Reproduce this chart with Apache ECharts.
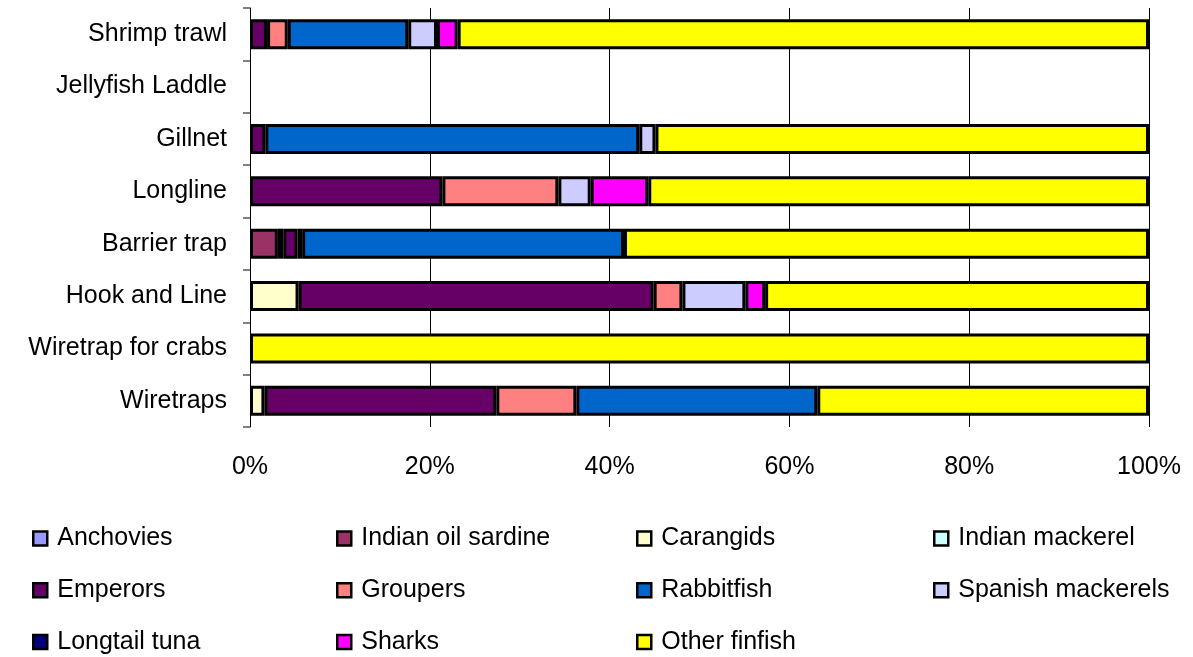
<!DOCTYPE html>
<html>
<head>
<meta charset="utf-8">
<script src="https://cdn.jsdelivr.net/npm/echarts@6/dist/echarts.min.js"></script>
<style>html,body{margin:0;padding:0;background:#fff}#c{width:1193px;height:657px}</style>
</head>
<body>
<div id="c"></div>
<script>
var categories = ['Shrimp trawl','Jellyfish Laddle','Gillnet','Longline','Barrier trap','Hook and Line','Wiretrap for crabs','Wiretraps'];
var xTickLabels = ['0%','20%','40%','60%','80%','100%'];

var anchovies        = [0,   0, 0,    0,    0,    0,    0,   0];
var indianOilSardine = [0,   0, 0,    0,    3.1,  0,    0,   0];
var carangids        = [0,   0, 0,    0,    0.6,  5.4,  0,   1.6];
var indianMackerel   = [0,   0, 0,    0,    0,    0,    0,   0];
var emperors         = [1.9, 0, 1.7,  21.4, 1.6,  39.5, 0,   25.8];
var groupers         = [2.3, 0, 0,    12.9, 0.5,  3.2,  0,   8.9];
var rabbitfish       = [13.4,0, 41.6, 0,    35.8, 0,    0,   26.8];
var spanishMackerels = [3.2, 0, 1.8,  3.6,  0,    7.0,  0,   0];
var longtailTuna     = [0,   0, 0,    0,    0,    0,    0,   0];
var sharks           = [2.3, 0, 0,    6.4,  0,    2.2,  0,   0];
var otherFinfish     = [76.9,0, 54.9, 55.7, 58.4, 42.7, 100, 36.9];

var seriesNames = ['Anchovies','Indian oil sardine','Carangids','Indian mackerel','Emperors','Groupers','Rabbitfish','Spanish mackerels','Longtail tuna','Sharks','Other finfish'];
var seriesData = [anchovies, indianOilSardine, carangids, indianMackerel, emperors, groupers, rabbitfish, spanishMackerels, longtailTuna, sharks, otherFinfish];
var colors = ['#9999FF','#993366','#FFFFCC','#CCFFFF','#660066','#FF8080','#0066CC','#CCCCFF','#000080','#FF00FF','#FFFF00'];

var FONT = 'Liberation Sans, Arial, sans-serif';
var series = seriesNames.map(function(n, i){
  return {
    name: n, type: 'bar', stack: 'all', barWidth: 30,
    itemStyle: {color: colors[i], borderColor: '#000', borderWidth: 3},
    data: seriesData[i].map(function(v){ return v === 0 ? '-' : v; })
  };
});

var legendCols = [
  {left: 32,  names: ['Anchovies','Emperors','Longtail tuna']},
  {left: 336, names: ['Indian oil sardine','Groupers','Sharks']},
  {left: 636, names: ['Carangids','Rabbitfish','Other finfish']},
  {left: 933, names: ['Indian mackerel','Spanish mackerels']}
];
var legends = legendCols.map(function(c){
  return {
    orient: 'vertical', left: c.left, top: 526, padding: 0,
    itemWidth: 14, itemHeight: 14, itemGap: 26.7, icon: 'rect',
    data: c.names,
    itemStyle: {borderColor: '#000', borderWidth: 2.5},
    textStyle: {fontFamily: FONT, fontSize: 25, color: '#000', padding: [0,0,0,5]},
    selectedMode: false
  };
});

var chart = echarts.init(document.getElementById('c'), null, {renderer: 'canvas'});
chart.setOption({
  animation: false,
  backgroundColor: '#fff',
  grid: {left: 250, right: 44, top: 8, bottom: 230, containLabel: false},
  legend: legends,
  xAxis: {
    type: 'value', min: 0, max: 100, interval: 20,
    axisLine: {show: false},
    axisTick: {show: false},
    axisLabel: {fontFamily: FONT, fontSize: 25, color: '#000', margin: 28,
      formatter: function(v){ return xTickLabels[Math.round(v/20)]; }},
    splitLine: {show: true, lineStyle: {color: '#000', width: 1}}
  },
  yAxis: {
    type: 'category', data: categories, inverse: true,
    axisLine: {show: true, lineStyle: {color: '#000', width: 1}},
    axisTick: {show: true, length: 7, lineStyle: {color: '#808080', width: 2}},
    axisLabel: {fontFamily: FONT, fontSize: 25, color: '#000', margin: 23},
    splitLine: {show: false}
  },
  series: series
});
</script>
</body>
</html>
